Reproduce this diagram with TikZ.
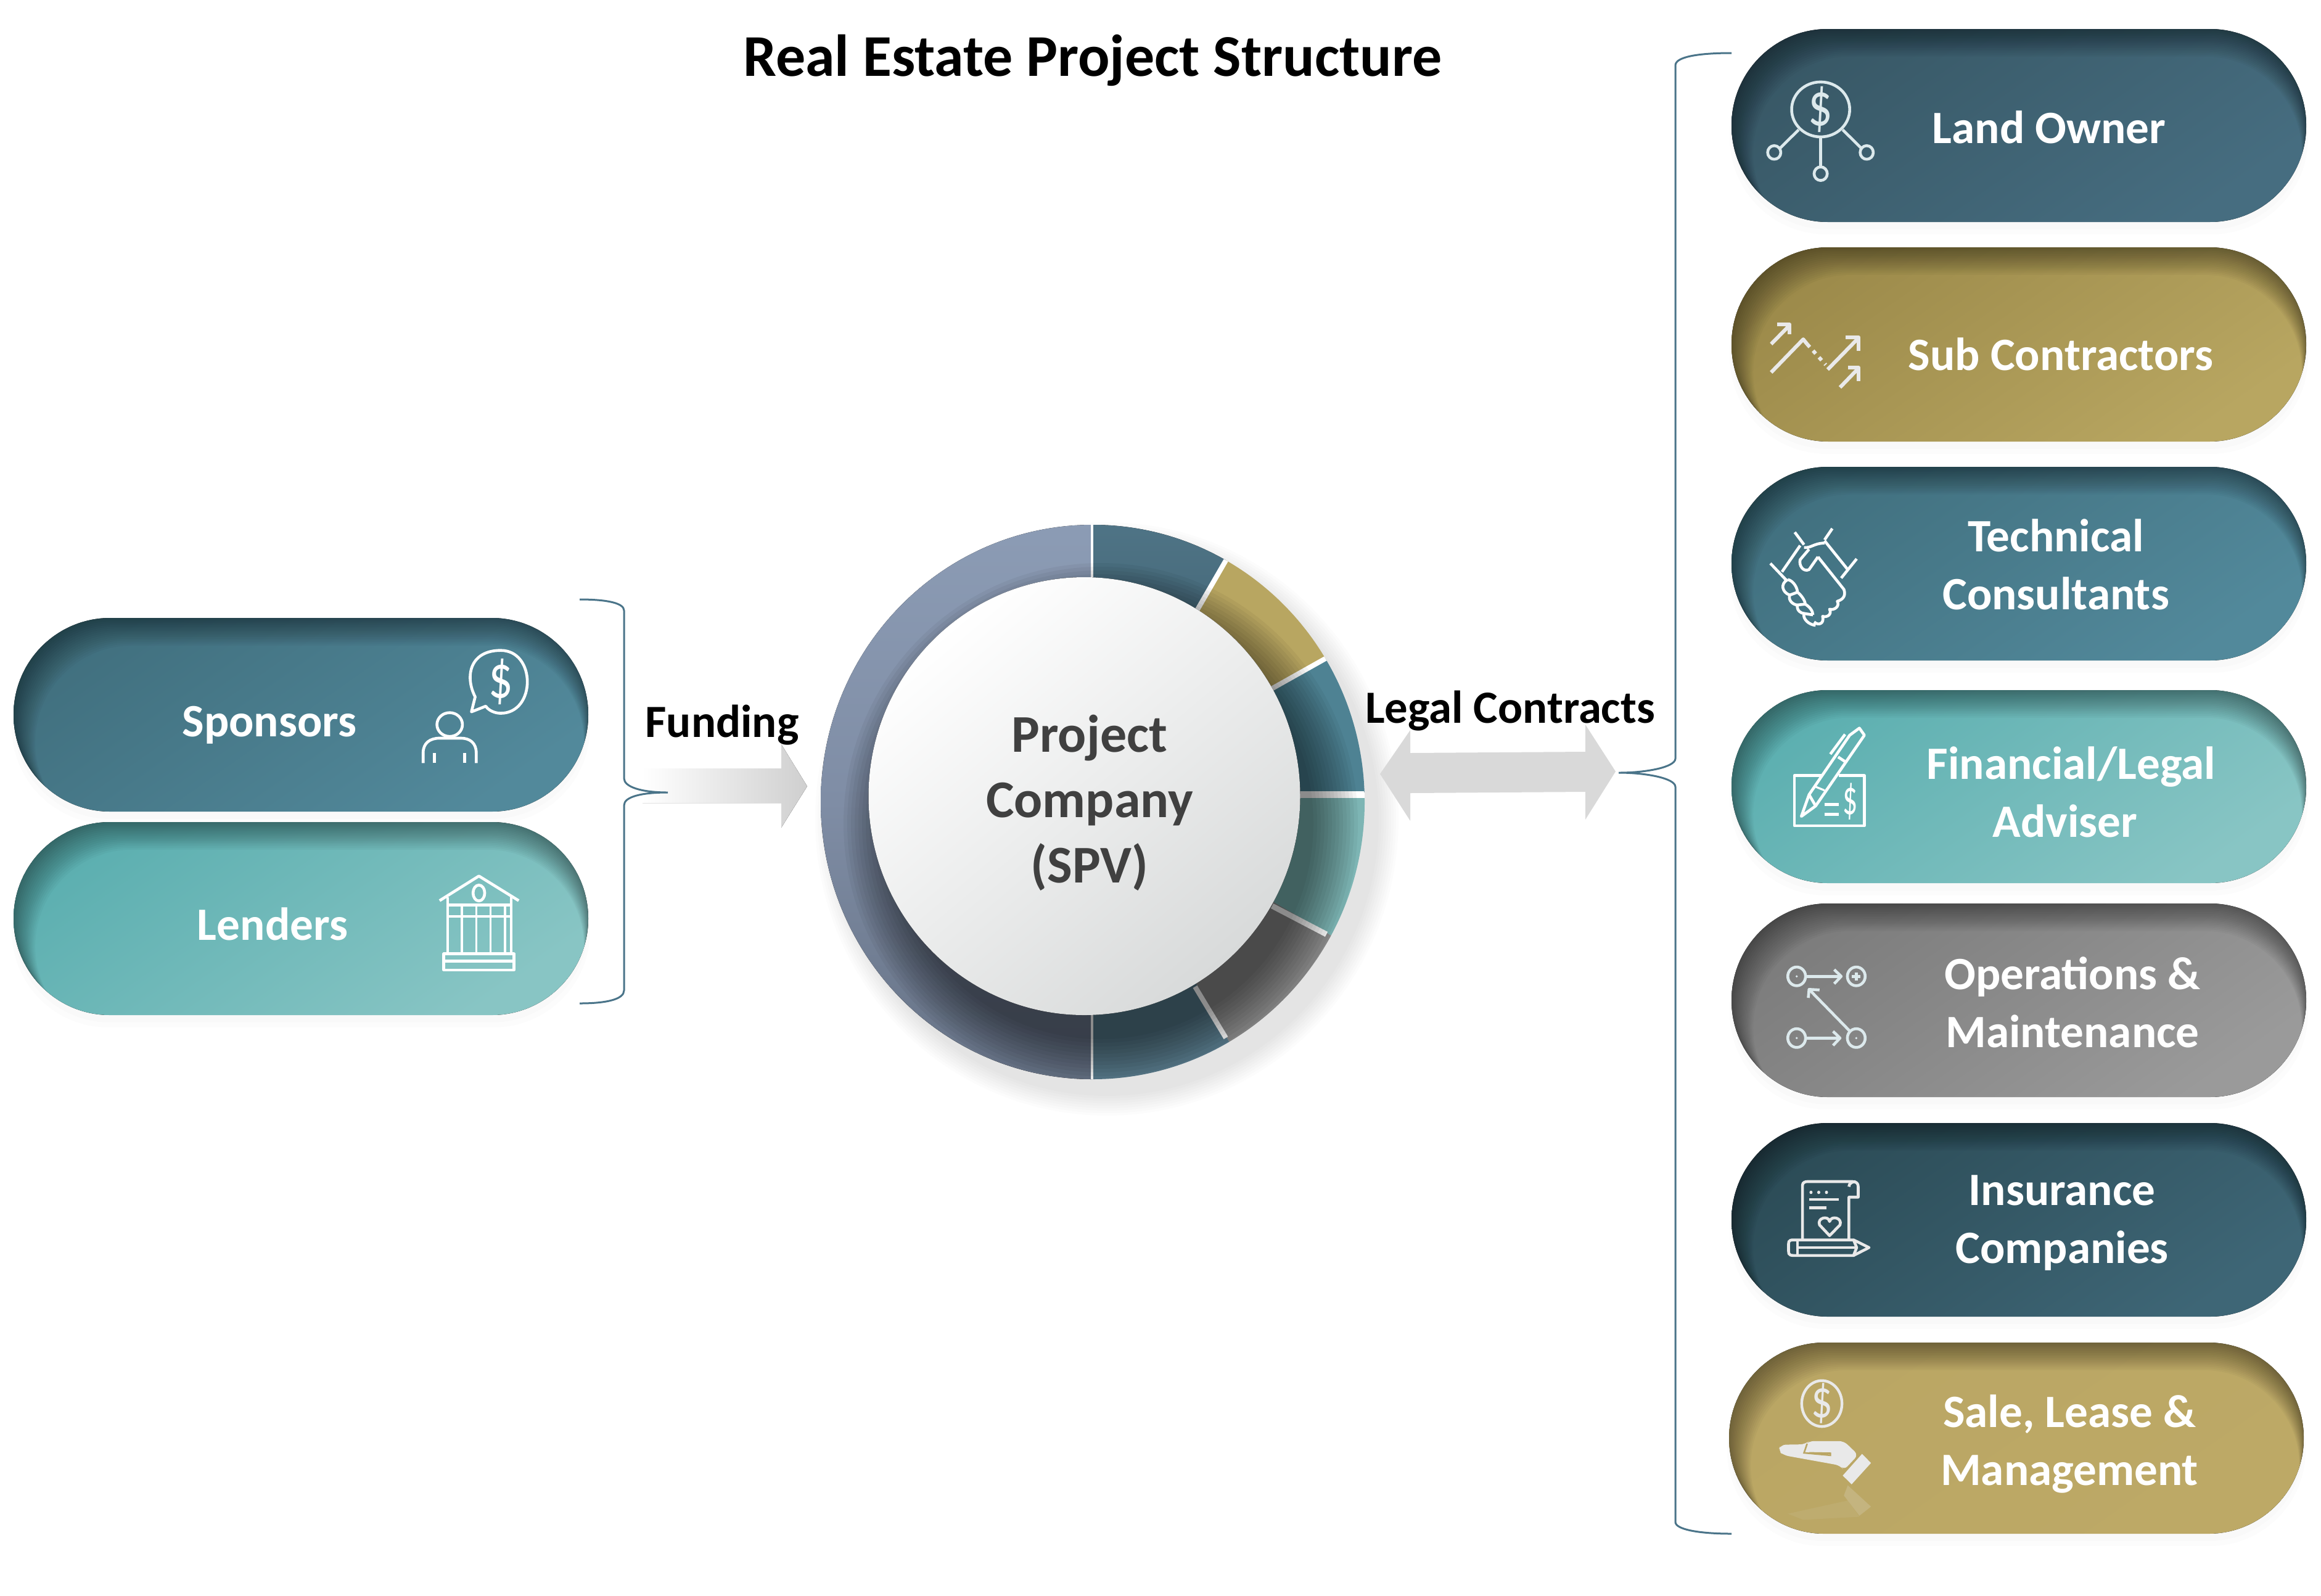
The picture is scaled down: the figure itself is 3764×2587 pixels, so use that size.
\documentclass[tikz,border=0pt]{standalone}
\usepackage{fontspec}
\usepackage{graphicx}
\setmainfont{Carlito}
\usetikzlibrary{calc}
\definecolor{deepA}{HTML}{385866}\definecolor{deepB}{HTML}{466D80}
\definecolor{goldA}{HTML}{9C8A4A}\definecolor{goldB}{HTML}{B8A661}
\definecolor{techA}{HTML}{41707F}\definecolor{techB}{HTML}{52899B}
\definecolor{tealA}{HTML}{5CAFB0}\definecolor{tealB}{HTML}{88C5C4}
\definecolor{opsA}{HTML}{7C7C7C}\definecolor{opsB}{HTML}{9A9A9A}
\definecolor{insA}{HTML}{2C4C57}\definecolor{insB}{HTML}{3E6676}
\definecolor{saleA}{HTML}{BAA664}\definecolor{saleB}{HTML}{BDA966}
\definecolor{braceC}{HTML}{4A7489}
\definecolor{iconA}{HTML}{DCE9EC}
\definecolor{iconB}{HTML}{E9E9E9}
\definecolor{ringA}{HTML}{8C9CB5}\definecolor{ringM}{HTML}{7F8DA5}\definecolor{ringB}{HTML}{667285}
\definecolor{discEnd}{HTML}{D8DADA}
\definecolor{spvText}{HTML}{404040}
\definecolor{fundArrow}{HTML}{CFCFCF}
\definecolor{legalArrow}{HTML}{D9D9D9}
\newcommand{\pillshape}[6]{%
  \pgfmathsetmacro{\rzero}{#4/4-0.05}
  \fill[black,opacity=0.012,rounded corners=\rzero pt] (#1,#2+10) rectangle (#3,#2+#4+12);
  \fill[black,opacity=0.012,rounded corners=\rzero pt] (#1-3,#2+14) rectangle (#3+3,#2+#4+20);
  \begin{scope}
    \clip[rounded corners=\rzero pt] (#1,#2) rectangle (#3,#2+#4);
    \fill[top color=#5,bottom color=#6,shading angle=35] (#1,#2) rectangle (#3,#2+#4);
    \foreach \i in {1,...,16}{
      \fill[black,opacity=0.026,even odd rule] (#1-30,#2-30) rectangle (#3+30,#2+#4+30)
        [rounded corners=\rzero pt] (#1+\i*2.2,#2+\i*2.8) rectangle (#3-\i*0.45,#2+#4+\i*2.8);
    }
  \end{scope}
}
\newcommand{\dollarmark}{\scalebox{0.78}[1]{\$}}
\tikzset{
  pilltext/.style={font=\bfseries\fontsize{37.6}{47}\selectfont,text=white,align=center,inner sep=0pt},
  sidelabel/.style={font=\bfseries\fontsize{37.4}{44}\selectfont,text=black,inner sep=0pt},
  zoomr/.style={shift={(2780,#1)},x=0.3138pt,y=-0.2295pt},
  zooms/.style={shift={(2780,2142)},x=0.3138pt,y=-0.1645pt},
  zooml/.style={shift={(0,950)},x=0.4305pt,y=-0.2295pt},
  iconline/.style={line width=2.3pt,line cap=butt,line join=round,draw=#1},
  bracket/.style={draw=braceC,line width=1.5pt},
}
\begin{document}
\begin{tikzpicture}[x=0.5pt,y=-0.5pt]
\useasboundingbox (0,0) rectangle (3764,2587);
\fill[white] (0,0) rectangle (3764,2587);

% --- pills
\pillshape{2808}{47}{3740}{313}{deepA}{deepB}
\pillshape{2808}{401}{3740}{315}{goldA}{goldB}
\pillshape{2808}{757}{3740}{314}{techA}{techB}
\pillshape{2808}{1119}{3740}{313}{tealA}{tealB}
\pillshape{2808}{1465}{3740}{314}{opsA}{opsB}
\pillshape{2808}{1821}{3740}{314}{insA}{insB}
\pillshape{2804}{2177}{3736}{310}{saleA}{saleB}
\pillshape{22}{1002}{954}{314}{techA}{techB}
\pillshape{22}{1333}{954}{313}{tealA}{tealB}

% --- centre shadow
\foreach \k in {0,4,...,32}{
  \fill[black,opacity=0.013] (1795,1328) ellipse[x radius=441+\k,y radius=449+\k];
}
% --- ring
\begin{scope}
  \clip (1772,1300.5) ellipse[x radius=441,y radius=449.5];
  \coordinate (apex) at (1767,1290);
  \fill[top color=ringA,bottom color=ringB,middle color=ringM] (1300,840) rectangle (1770,1760);
  \fill[top color=deepB!95!white,bottom color=deepA] (apex) -- (1770,840) -- (2013,840) -- (2013,866) -- cycle;
  \fill[color=goldB] (apex) -- (2013,866) -- (2195,866) -- (2195,1042) -- cycle;
  \fill[color=techB!95!black] (apex) -- (2195,1042) -- (2270,1042) -- (2270,1288) -- cycle;
  \fill[color=tealB!92!black] (apex) -- (2270,1288) -- (2270,1538) -- (2195,1538) -- cycle;
  \fill[color=opsB!90!black] (apex) -- (2195,1538) -- (2195,1724) -- (2013,1724) -- cycle;
  \fill[color=deepB!90!white] (apex) -- (2013,1724) -- (2013,1760) -- (1770,1760) -- cycle;
  \draw[white,line width=2pt] (1770.5,851) -- (1770.5,1750);
  \draw[white,line width=4pt] (1989,907) -- (1941,990);
  \draw[white,line width=4pt] (2151,1067) -- (2062,1117);
  \draw[white,line width=5.5pt] (2213,1288) -- (2108,1288);
  \draw[white,line width=4.5pt] (2151,1515) -- (2063,1469);
  \draw[white,line width=4pt] (1988,1683) -- (1938,1600);
  \foreach \k in {0,6,...,72}{
    \fill[black,opacity=0.045] (1785,1335) ellipse[x radius=345+\k,y radius=350+\k];
  }
\end{scope}
\fill[top color=white,bottom color=discEnd,shading angle=40] (1758.5,1291) ellipse[x radius=350,y radius=355];
\node[font=\bfseries\fontsize{43}{53}\selectfont,text=spvText,align=center,inner sep=0pt] (spv) at (1767,1302) {Project\\Company\\(SPV)};

% --- arrows
\fill[left color=white,right color=fundArrow,shading angle=90] (1042,1246) -- (1267,1246) -- (1267,1207) -- (1309,1275) -- (1267,1342) -- (1267,1302) -- (1042,1302) -- cycle;
\fill[color=legalArrow] (2238,1255) -- (2287,1184) -- (2287,1221) -- (2571,1219) -- (2571,1175) -- (2620,1251) -- (2571,1329) -- (2571,1284) -- (2287,1286) -- (2287,1331) -- cycle;

% --- brackets
\coordinate (ltop) at (940,972);
\coordinate (lmid) at (1083,1285);
\coordinate (lbot) at (940,1627);
\draw[bracket] (ltop) .. controls (985,972) and (1012,978) .. (1012,990) -- (1012,1262)
  .. controls (1012,1276) and (1040,1285) .. (lmid)
  .. controls (1040,1285) and (1012,1292) .. (1012,1306) -- (1012,1606)
  .. controls (1012,1620) and (985,1627) .. (lbot);
\coordinate (rtop) at (2808,86);
\coordinate (rmid) at (2625,1253);
\coordinate (rbot) at (2808,2487);
\draw[bracket] (rtop) .. controls (2755,86) and (2717,92) .. (2717,106) -- (2717,1230)
  .. controls (2717,1244) and (2670,1253) .. (rmid)
  .. controls (2670,1253) and (2717,1262) .. (2717,1276) -- (2717,2468)
  .. controls (2717,2480) and (2755,2487) .. (rbot);

% --- labels
\node[font=\bfseries\fontsize{48}{56}\selectfont,text=black,inner sep=0pt] (title) at (1772,98) {Real Estate Project Structure};
\node[sidelabel] (funding) at (1171,1176) {Funding};
\node[sidelabel] (legal) at (2449,1153) {Legal Contracts};
\node[pilltext] (landowner) at (3323,206) {Land Owner};
\node[pilltext] (subcon) at (3342,574) {Sub Contractors};
\node[pilltext] (tech) at (3334,915) {Technical\\Consultants};
\node[pilltext] (fin) at (3349,1284) {\hspace*{10pt}Financial/Legal\\Adviser};
\node[pilltext] (ops) at (3361,1625) {Operations \&\\Maintenance};
\node[pilltext] (ins) at (3344,1983) {Insurance\\Companies};
\node[pilltext] (sale) at (3356,2341) {Sale, Lease \&\\Management};
\node[pilltext] (sponsors) at (437,1176) {Sponsors};
\node[pilltext] (lenders) at (442,1498) {Lenders};

% --- icon: land owner
\begin{scope}[zoomr=20,iconline=iconA]
  \draw (275,343) ellipse[x radius=75,y radius=97];
  \node[text=iconA,font=\fontsize{50}{50}\selectfont,inner sep=0pt] (dollarA) at (275,343) {\dollarmark};
  \draw (275,440) -- (275,546); \draw (275,570) ellipse[x radius=17,y radius=24];
  \draw (218,415) -- (170,480); \draw (155,495) ellipse[x radius=17,y radius=24];
  \draw (332,415) -- (380,480); \draw (394,495) ellipse[x radius=17,y radius=24];
\end{scope}
% --- icon: sub contractors
\begin{scope}[zoomr=20,iconline=iconB,line width=3pt]
  \draw (147,1172) -- (195,1105); \draw (163,1103) -- (195,1103) -- (195,1137);
  \draw (147,1272) -- (230,1155) -- (240,1172);
  \draw[dash pattern=on 3.2pt off 4pt] (240,1172) -- (288,1245);
  \draw (293,1262) -- (373,1150); \draw (340,1148) -- (373,1148) -- (373,1195);
  \draw (325,1325) -- (373,1257); \draw (345,1255) -- (373,1255) -- (373,1302);
\end{scope}
% --- icon: handshake
\begin{scope}[zoomr=740,iconline=white]
  \draw (145,378) -- (188,440); \draw (208,268) -- (232,312); \draw (175,408) -- (222,315);
  \draw (305,255) -- (285,295); \draw (368,362) -- (328,430); \draw (285,298) -- (345,400);
  \draw (232,322) .. controls (250,325) and (255,308) .. (285,306);
  \draw (268,355) -- (245,400) .. controls (230,410) and (218,385) .. (222,365) -- (245,328);
  \draw (268,355) -- (335,470) .. controls (340,490) and (335,505) .. (318,512) .. controls (325,530) and (310,545) .. (298,540) .. controls (305,560) and (290,570) .. (280,565) .. controls (285,590) and (270,600) .. (258,585);
  \draw (190,435) .. controls (170,450) and (175,480) .. (195,490) .. controls (190,510) and (205,525) .. (215,525) .. controls (212,545) and (225,555) .. (232,555) .. controls (228,575) and (245,595) .. (262,597);
  \draw (190,435) .. controls (205,440) and (215,465) .. (215,480) .. controls (225,490) and (235,510) .. (235,522) .. controls (245,530) and (255,545) .. (255,560);
  \draw (195,490) -- (215,480); \draw (215,525) -- (235,522); \draw (232,555) -- (255,560);
\end{scope}
% --- icon: cheque and pen
\begin{scope}[zoomr=740,iconline=white]
  \draw (280,1128) -- (207,1128) -- (207,1305) -- (388,1305) -- (388,1128) -- (322,1128);
  \draw (225,1272) -- (245,1195) -- (350,985) -- (375,960) -- (388,985) -- (262,1235) -- cycle;
  \draw (245,1195) -- (262,1235);
  \draw (300,1052) -- (338,982);
  \draw (320,1062) -- (340,1080);
  \draw[line width=1.6pt] (258,1165) -- (285,1180);
  \draw (285,1230) -- (322,1230); \draw (285,1265) -- (322,1265);
  \node[text=white,font=\fontsize{40}{40}\selectfont,inner sep=0pt] (dollarB) at (352,1220) {\scalebox{0.6}[1]{\$}};
\end{scope}
% --- icon: operations
\begin{scope}[zoomr=1440,iconline=iconA]
  \draw (213,312) ellipse[x radius=23,y radius=33];
  \draw (367,312) ellipse[x radius=23,y radius=33];
  \draw (213,530) ellipse[x radius=23,y radius=33];
  \draw (367,530) ellipse[x radius=23,y radius=33];
  \fill[iconA] (213,312) ellipse[x radius=3,y radius=4];
  \fill[iconA] (213,530) ellipse[x radius=3,y radius=4];
  \fill[iconA] (367,530) ellipse[x radius=3,y radius=4];
  \draw (356,312) -- (378,312); \draw (367,298) -- (367,326);
  \draw (237,312) -- (328,312); \draw (310,288) -- (328,312) -- (310,338);
  \draw (237,530) -- (325,530); \draw (307,506) -- (325,530) -- (307,556);
  \draw (350,505) -- (245,358); \draw (243,388) -- (245,358) -- (272,360);
\end{scope}
% --- icon: insurance
\begin{scope}[zoomr=1440,iconline=iconB]
  \draw (228,1240) -- (228,1050) .. controls (228,1040) and (235,1037) .. (240,1037) -- (358,1037) .. controls (368,1037) and (372,1045) .. (372,1055) -- (372,1092) -- (348,1092) -- (348,1240);
  \draw (348,1055) .. controls (348,1042) and (358,1037) .. (365,1037);
  \foreach \p in {250,270,290}{\fill[iconB] (\p,1075) ellipse[x radius=4,y radius=6];}
  \draw (245,1100) -- (322,1100); \draw (245,1130) -- (290,1130);
  \draw (298,1228) -- (272,1190) .. controls (265,1165) and (295,1155) .. (298,1178) .. controls (302,1155) and (332,1165) .. (325,1190) -- cycle;
  \draw (205,1243) -- (360,1243) -- (400,1270) -- (360,1298) -- (205,1298) .. controls (190,1298) and (192,1290) .. (192,1270) .. controls (192,1250) and (190,1243) .. (205,1243);
  \draw (215,1243) -- (215,1298); \draw (215,1270) -- (368,1270); \draw (360,1243) -- (368,1270) -- (360,1298);
\end{scope}
% --- icon: sale
\begin{scope}[zooms]
  \draw[draw=iconB,line width=2.2pt] (278,407) ellipse[x radius=52,y radius=113];
  \node[text=iconB,font=\fontsize{44}{44}\selectfont,inner sep=0pt] (dollarC) at (278,407) {\dollarmark};
  \fill[iconB,rounded corners=4pt] (180,662) -- (165,640) -- (172,610) -- (235,608) -- (245,592) -- (335,592) -- (372,660) -- (335,735) -- (325,712) -- cycle;
  \draw[saleA,line width=1.3pt] (240,605) -- (232,650) -- (300,662) -- (300,652) -- (245,650);
  \fill[iconB] (382,655) -- (405,700) -- (355,805) -- (332,762) -- cycle;
  \fill[iconB,opacity=0.2] (345,810) -- (405,915) -- (375,960) -- (335,860) -- cycle;
  \fill[iconB,opacity=0.08] (190,950) -- (345,885) -- (375,965) -- (230,980) -- cycle;
\end{scope}
% --- icon: sponsors
\begin{scope}[zooml,iconline=white]
  \draw (895,392) .. controls (875,320) and (885,228) .. (943,228) .. controls (1010,228) and (1010,450) .. (943,450) .. controls (932,450) and (920,440) .. (915,425) -- (888,445) -- cycle;
  \node[text=white,font=\fontsize{50}{50}\selectfont,inner sep=0pt] (dollarD) at (943,338) {\dollarmark};
  \draw (847,490) ellipse[x radius=24,y radius=42];
  \draw (797,626) -- (797,590) .. controls (797,555) and (810,538) .. (828,538) -- (868,538) .. controls (885,538) and (897,555) .. (897,590) -- (897,626);
  \draw (818,590) -- (818,626); \draw (875,590) -- (875,626);
\end{scope}
% --- icon: bank
\begin{scope}[zooml,iconline=white]
  \draw (828,1112) -- (902,1025) -- (977,1112);
  \draw (843,1100) -- (843,1128) -- (963,1128) -- (963,1100);
  \draw (902,1085) ellipse[x radius=11,y radius=28];
  \draw[line width=1.8pt] (843,1168) -- (963,1168);
  \foreach \p in {843,870,897,924,951,963}{\draw[line width=1.8pt] (\p,1128) -- (\p,1296);}
  \draw (836,1300) rectangle (968,1357); \draw (836,1326) -- (968,1326);
\end{scope}
\end{tikzpicture}
\end{document}
